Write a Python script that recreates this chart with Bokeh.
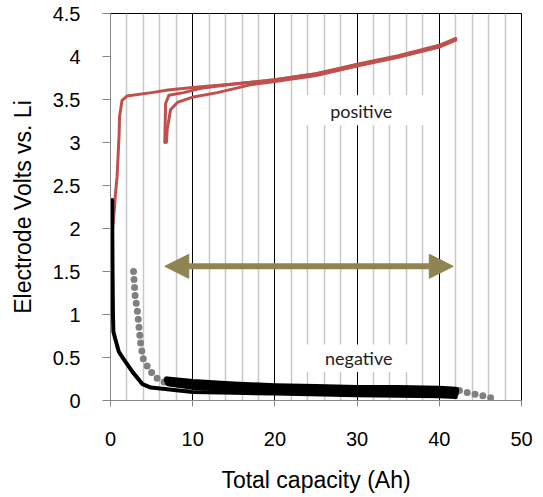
from bokeh.plotting import figure
from bokeh.models import Range1d, FixedTicker, NumeralTickFormatter, Arrow, NormalHead
from bokeh.embed import file_html
from bokeh.resources import INLINE
from bokeh.core.properties import value

# ---- data ----
x_ticks = [0, 10, 20, 30, 40, 50]
x_minor = [2, 4, 6, 8, 12, 14, 16, 18, 22, 24, 26, 28, 32, 34, 36, 38, 42, 44, 46, 48]
y_ticks = [0, 0.5, 1, 1.5, 2, 2.5, 3, 3.5, 4, 4.5]

pos1_x = [0.25, 0.45, 0.6, 0.8, 0.95, 1.05, 1.1, 1.4, 2.0, 5, 7, 10, 15, 20, 25, 30, 35, 40, 42]
pos1_y = [2.0, 2.2, 2.4, 2.6, 2.9, 3.1, 3.3, 3.49, 3.54, 3.58, 3.61, 3.64, 3.68, 3.73, 3.8, 3.91, 4.01, 4.13, 4.21]

pos2_x = [6.6, 6.65, 6.7, 7.1, 8.9, 11, 15, 20, 25, 30, 35, 40, 42]
pos2_y = [3.0, 3.2, 3.45, 3.55, 3.58, 3.63, 3.68, 3.73, 3.8, 3.9, 4.0, 4.12, 4.2]

pos3_x = [6.8, 6.9, 7.3, 8.2, 10.1, 13, 17, 20, 25, 30, 35, 40, 42]
pos3_y = [3.0, 3.15, 3.38, 3.47, 3.53, 3.58, 3.67, 3.71, 3.78, 3.89, 3.99, 4.11, 4.19]

neg1_x = [0.2, 0.25, 0.3, 0.35, 0.6, 1.0, 1.6, 2.7, 3.9, 4.9, 6.9, 10, 15, 20, 30, 40, 42]
neg1_y = [2.33, 1.5, 1.0, 0.8, 0.71, 0.57, 0.48, 0.33, 0.19, 0.15, 0.13, 0.1, 0.09, 0.08, 0.06, 0.05, 0.04]

neg2_x = [6.9, 10, 15, 20, 25, 30, 35, 40, 42]
neg2_y = [0.24, 0.21, 0.18, 0.16, 0.15, 0.14, 0.14, 0.13, 0.12]

neg3_x = [7.0, 10, 15, 20, 28, 35, 42]
neg3_y = [0.2, 0.16, 0.13, 0.11, 0.1, 0.09, 0.08]

gray_x = [2.8, 3.0, 3.3, 3.5, 3.7, 4.0, 4.7, 5.5, 6.3, 10, 20, 30, 40, 42.3, 43.5, 44.5, 45.5, 46.3]
gray_y = [1.5, 1.21, 1.02, 0.82, 0.63, 0.48, 0.36, 0.27, 0.22, 0.16, 0.12, 0.1, 0.1, 0.12, 0.09, 0.07, 0.05, 0.03]

arrow_x = [6.6, 41.7]
arrow_y = 1.56

labels = ["positive", "negative"]
label_x = [30.5, 30.2]
label_y = [3.37, 0.5]

RED = "#C0504D"
OLIVE = "#8f8552"
AXIS_GRAY = "#868686"

p = figure(width=535, height=495, output_backend="svg", toolbar_location=None,
           x_range=Range1d(0, 50), y_range=Range1d(0, 4.5),
           min_border_left=110, min_border_right=14, min_border_top=13, min_border_bottom=94)
p.outline_line_color = "black"
p.outline_line_width = 1

xt = FixedTicker(ticks=x_ticks, minor_ticks=x_minor)
p.xaxis.ticker = xt
p.xgrid.ticker = xt
p.xgrid.grid_line_color = "black"
p.xgrid.grid_line_width = 1
p.xgrid.minor_grid_line_color = "#c8c8c8"
p.xgrid.minor_grid_line_width = 1.5
p.ygrid.visible = False

p.yaxis.ticker = FixedTicker(ticks=y_ticks)
p.yaxis.formatter = NumeralTickFormatter(format="0.[0]")

for ax in (p.xaxis, p.yaxis):
    ax.axis_line_color = AXIS_GRAY
    ax.major_tick_line_color = AXIS_GRAY
    ax.minor_tick_line_color = None
    ax.major_tick_in = 0
    ax.major_label_text_font = "Liberation Sans"
    ax.major_label_text_font_size = "20px"
    ax.major_label_text_color = "#000000"
    ax.axis_label_text_font = "Liberation Sans"
    ax.axis_label_text_font_size = "23px"
    ax.axis_label_text_font_style = "normal"
    ax.axis_label_text_color = "#000000"

p.xaxis.major_tick_out = 6
p.xaxis.major_label_standoff = 25
p.xaxis.axis_label = "Total capacity (Ah)"
p.xaxis.axis_label_standoff = 18

p.yaxis.major_tick_out = 8
p.yaxis.major_label_standoff = 22
p.yaxis.axis_label = "Electrode Volts vs. Li"
p.yaxis.axis_label_standoff = 14

# white label boxes
p.quad(left=[23.2, 23.2], right=[38.8, 37.2], top=[3.55, 0.65], bottom=[3.2, 0.33],
       fill_color="white", line_color=None)

# positive electrode curves
for xs, ys in ((pos1_x, pos1_y), (pos2_x, pos2_y), (pos3_x, pos3_y)):
    p.line(xs, ys, line_color=RED, line_width=3, line_join="round", line_cap="round")

# gray dotted curve
p.line(gray_x, gray_y, line_color="#808080", line_width=7, line_dash="0 8", line_cap="round")

# negative electrode curves
p.line(neg1_x, neg1_y, line_color="black", line_width=4, line_join="round", line_cap="round")
p.line(neg2_x, neg2_y, line_color="black", line_width=7, line_join="round", line_cap="round")
p.line(neg3_x, neg3_y, line_color="black", line_width=6, line_join="round", line_cap="round")

# double-headed arrow
p.add_layout(Arrow(start=NormalHead(size=24, fill_color=OLIVE, line_color=OLIVE),
                   end=NormalHead(size=24, fill_color=OLIVE, line_color=OLIVE),
                   x_start=arrow_x[0], y_start=arrow_y, x_end=arrow_x[1], y_end=arrow_y,
                   line_color=OLIVE, line_width=6))

p.text(x=label_x, y=label_y, text=labels, text_align="center", text_baseline="middle",
       text_font=value("Lato"), text_font_size="18px", text_color="#222222")

open("out.html", "w").write(file_html(p, INLINE))
